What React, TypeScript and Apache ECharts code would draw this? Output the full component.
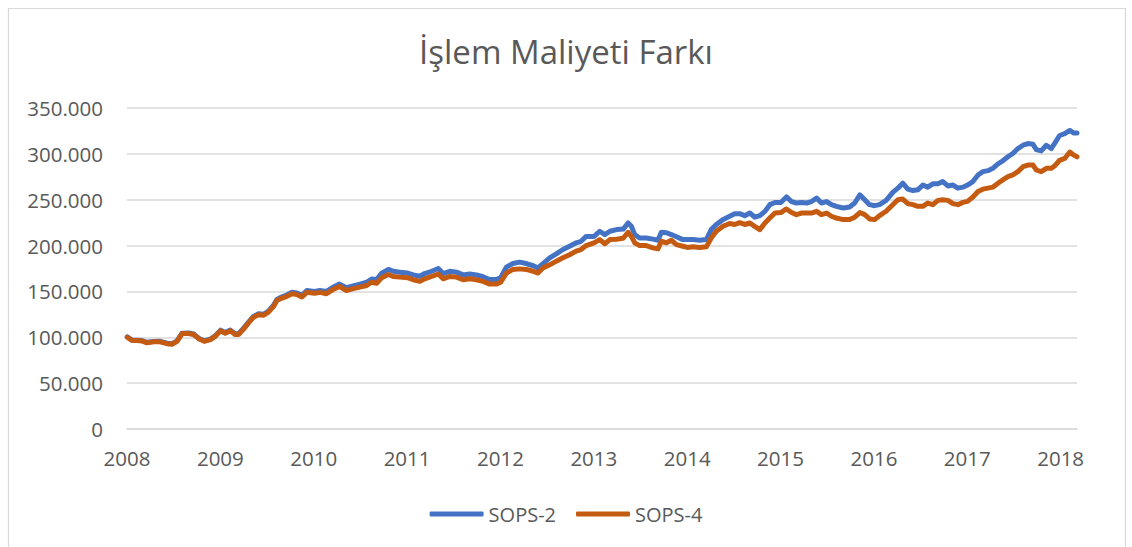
import React, { useEffect, useRef } from "react";
import * as echarts from "echarts";

const TITLE = "İşlem Maliyeti Farkı";
const SERIES_NAMES = ["SOPS-2", "SOPS-4"];
const Y_TICKS = [0, 50000, 100000, 150000, 200000, 250000, 300000, 350000];
const X_YEARS = [2008, 2009, 2010, 2011, 2012, 2013, 2014, 2015, 2016, 2017, 2018];

const dates = [
  "2008-01-02","2008-01-20","2008-02-09","2008-02-28","2008-03-19","2008-04-14","2008-05-10","2008-06-06","2008-06-25","2008-07-15","2008-08-04","2008-08-30","2008-09-18","2008-10-08","2008-10-30","2008-11-23","2008-12-12",
  "2009-01-02","2009-01-20","2009-02-09","2009-02-28","2009-03-13","2009-04-01","2009-04-21","2009-05-10","2009-05-30","2009-06-19","2009-07-08","2009-07-28","2009-08-10","2009-08-30","2009-09-18","2009-10-08","2009-10-27","2009-11-16","2009-12-05",
  "2010-01-04","2010-01-25","2010-02-20","2010-03-17","2010-04-12","2010-05-09","2010-06-04","2010-07-01","2010-07-27","2010-08-15","2010-09-04","2010-09-24","2010-10-20","2010-11-08","2010-12-04",
  "2011-01-03","2011-01-25","2011-02-20","2011-03-11","2011-04-07","2011-05-03","2011-05-22","2011-06-17","2011-07-13","2011-08-08","2011-09-03","2011-09-29","2011-10-25","2011-11-20","2011-12-16",
  "2012-01-02","2012-01-24","2012-02-19","2012-03-16","2012-04-11","2012-05-08","2012-05-27","2012-06-16","2012-07-12","2012-08-07","2012-09-02","2012-09-28","2012-10-24","2012-11-12","2012-12-02",
  "2013-01-02","2013-01-24","2013-02-13","2013-03-05","2013-03-31","2013-04-26","2013-05-15","2013-05-28","2013-06-10","2013-06-29","2013-07-25","2013-08-20","2013-09-09","2013-09-22","2013-10-12","2013-10-31","2013-11-20","2013-12-15",
  "2014-01-02","2014-01-24","2014-02-19","2014-03-17","2014-04-05","2014-04-25","2014-05-21","2014-06-16","2014-07-06","2014-07-25","2014-08-14","2014-09-03","2014-09-22","2014-10-12","2014-11-01","2014-11-20","2014-12-10",
  "2015-01-02","2015-01-24","2015-02-13","2015-03-04","2015-03-24","2015-04-13","2015-05-02","2015-05-22","2015-06-10","2015-06-30","2015-07-19","2015-08-07","2015-09-03","2015-09-28","2015-10-18","2015-11-07","2015-11-26","2015-12-15",
  "2016-01-04","2016-01-23","2016-02-18","2016-03-15","2016-04-04","2016-04-23","2016-05-13","2016-06-02","2016-06-21","2016-07-11","2016-07-30","2016-08-19","2016-09-08","2016-09-27","2016-10-17","2016-11-06","2016-11-25","2016-12-15",
  "2017-01-02","2017-01-23","2017-02-12","2017-03-03","2017-03-23","2017-04-11","2017-05-01","2017-05-20","2017-06-09","2017-06-28","2017-07-18","2017-08-07","2017-08-26","2017-09-15","2017-09-28","2017-10-17","2017-11-06","2017-11-25","2017-12-08","2017-12-28",
  "2018-01-17","2018-02-06","2018-02-22","2018-03-06",
];

// values in thousands
const sops2 = [
  100.5,97,96.8,96.5,94.5,95.5,95.6,93.5,93,96,104.5,104.6,103.6,99,96.2,98,101.6,
  107.8,105.2,107.8,103.8,103.8,109.5,116.5,122.6,125.6,125,128.6,134.9,141.3,144.1,146.1,149.1,148.4,145.8,150.9,
  150,151,150,154.5,158,154,156,158,160,163.5,163,170,174,172,171,
  170,168,166.5,169.5,172,175,169.5,172,171,168,169,168,166,163,163,
  165,176.5,180.4,181.9,180.4,178,175.7,180.4,186.6,191,195.7,199.3,203,204.7,210,
  210,215.6,212,215.6,217.4,218,224.6,221,212,208.3,208.3,207,205.8,214.5,214,212,209.6,206.5,
  206.5,206.5,205.8,206.5,217.4,223,228.3,232,234.8,234.8,232.6,235.5,231,232.6,237.3,244.6,247,
  247,253,248,246.4,247,246.4,248,251.8,246.4,248,244.6,242.8,241,242,246.4,255.4,250,244.6,
  243.5,244.6,249.3,258,262.6,268,261.5,260,260.8,266,263.7,267.3,267.3,269.8,265,266,262.6,263.7,
  266,269.8,277,280.6,281.7,284.2,289,292.4,296.8,300.4,305.8,309.4,311.2,310.4,304.7,303.2,309.4,305.8,311.2,320,
  322,325.5,322.7,322.7,
];

const sops4 = [
  100,96.7,96.4,96,94,95,95,93,92.4,95.6,104,104,103,98.5,95.6,97.5,101,
  107,104.5,107,103,103,108.7,115.6,121.7,124.6,124,127.5,133.7,140,142.7,144.6,147.5,146.7,144,149,
  148,149,147.5,152,155.4,151,153,154.7,156.5,160,159,165,168.5,166.3,165.6,
  165,162.7,161,163.8,166.3,169,163.8,166.3,165.6,162.7,163.8,162.7,161,158,158,
  160,170,174,174.6,174,172,170,175.7,179,183,186.6,190,194,195.7,200,
  203,206.5,202,206.5,207,208,214.5,210,203,200,200,197.5,196.4,204.7,203,205.8,201,199.3,
  198,198.6,197.8,198.6,208.3,215.6,221,224,223,225,223,224.6,221,217.4,224.6,230,235.5,
  236,239.9,236,233.7,235.5,235.5,235.5,237.3,233.7,235.5,232,230,228.3,228.3,231,236,233.7,229,
  228.3,232.7,237.4,244.6,250,250.7,245.7,244.6,242.8,242.8,246.4,244.6,249.3,250,249.3,245.7,244.6,247.1,
  248.2,252.9,259,261.5,262.6,263.7,268,271.6,275.2,277,280.6,286,287.8,287.8,282.4,280.6,284.2,284.2,286.7,293,
  295,302,298.6,296.8,
];

const toYear = (s: string) => {
  const [y, m, d] = s.split("-").map(Number);
  const start = Date.UTC(y, 0, 1);
  const end = Date.UTC(y + 1, 0, 1);
  return y + (Date.UTC(y, m - 1, d) - start) / (end - start);
};

const fmtTR = (v: number) => String(Math.round(v)).replace(/\B(?=(\d{3})+(?!\d))/g, ".");

const FONT = "'Open Sans', 'Noto Sans', sans-serif";
const GREY = "#595959";

export default function App() {
  const ref = useRef<HTMLDivElement>(null);
  useEffect(() => {
    if (!ref.current) return;
    const chart = echarts.init(ref.current, undefined, { renderer: "svg" });
    const xs = dates.map(toYear);
    const s2 = xs.map((x, i) => [x, sops2[i] * 1000]);
    const s4 = xs.map((x, i) => [x, sops4[i] * 1000]);
    chart.setOption({
      animation: false,
      backgroundColor: "#ffffff",
      textStyle: { fontFamily: FONT },
      title: {
        text: TITLE,
        left: "center",
        top: 30,
        textStyle: { fontFamily: FONT, fontSize: 33, fontWeight: "normal", color: GREY },
      },
      graphic: [
        {
          type: "rect",
          shape: { x: 8.5, y: 8.5, width: 1117, height: 600 },
          style: { fill: "none", stroke: "#D9D9D9", lineWidth: 1.2 },
          silent: true,
        },
      ],
      legend: {
        bottom: 18,
        left: "center",
        icon: "roundRect",
        itemWidth: 54,
        itemHeight: 5,
        itemGap: 20,
        textStyle: { fontFamily: FONT, fontSize: 20, color: GREY },
        data: SERIES_NAMES,
      },
      grid: { left: 127, right: 55, top: 108, bottom: 118 },
      xAxis: {
        type: "value",
        min: X_YEARS[0],
        max: xs[xs.length - 1],
        interval: 1,
        axisLine: { show: true, lineStyle: { color: "#D9D9D9", width: 1.5 } },
        axisTick: { show: false },
        splitLine: { show: false },
        axisLabel: {
          margin: 18,
          fontFamily: FONT,
          fontSize: 20.5,
          color: GREY,
          formatter: (v: number) => (X_YEARS.includes(Math.round(v * 1000) / 1000) ? String(Math.round(v)) : ""),
        },
      },
      yAxis: {
        type: "value",
        min: Y_TICKS[0],
        max: Y_TICKS[Y_TICKS.length - 1],
        interval: Y_TICKS[1] - Y_TICKS[0],
        axisLine: { show: false },
        axisTick: { show: false },
        splitLine: { lineStyle: { color: "#D9D9D9", width: 1.5 } },
        axisLabel: { margin: 24, fontFamily: FONT, fontSize: 20.5, color: GREY, formatter: fmtTR },
      },
      series: [
        {
          name: SERIES_NAMES[0],
          type: "line",
          data: s2,
          showSymbol: false,
          color: "#4472C4",
          lineStyle: { width: 5, cap: "round", join: "round", color: "#4472C4" },
        },
        {
          name: SERIES_NAMES[1],
          type: "line",
          data: s4,
          showSymbol: false,
          color: "#C55A11",
          lineStyle: { width: 5, cap: "round", join: "round", color: "#C55A11" },
        },
      ],
    });
    return () => chart.dispose();
  }, []);
  return (
    <div
      ref={ref}
      style={{ position: "absolute", left: 0, top: 0, width: 1132, height: 547, background: "#fff" }}
    />
  );
}
